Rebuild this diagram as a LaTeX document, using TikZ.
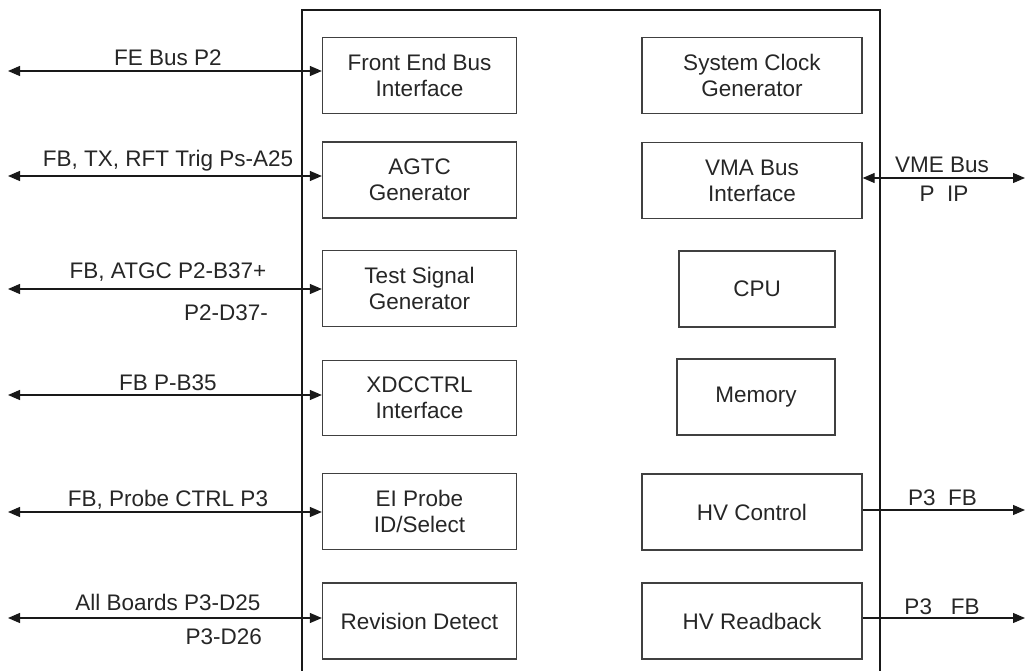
\documentclass[tikz,border=0pt]{standalone}
\usepackage{fontspec}
\setmainfont{Liberation Sans}
\usetikzlibrary{arrows.meta}
\begin{document}
\begin{tikzpicture}[x=1pt,y=-1pt,
  blk/.style={draw=black!75, line width=1.3pt, inner sep=0pt, align=center,
    font=\fontsize{22.5}{26}\selectfont, text=black!85},
  lbl/.style={inner sep=0pt, font=\fontsize{22.5}{26}\selectfont, text=black!85},
  conn/.style={draw=black!90, line width=1.2pt},
  tipr/.style={-{Triangle[length=12pt,width=10pt]}},
  tipb/.style={{Triangle[length=12pt,width=10pt]}-{Triangle[length=12pt,width=10pt]}}]
\useasboundingbox (0,0) rectangle (1025,671);
% outer frame (open at the bottom)
\draw[conn] (302,690) -- (302,10) -- (880,10) -- (880,690);
% left column
\node[blk, minimum width=194pt, minimum height=76pt] (feb) at (419.5,75.5) {Front End Bus\\Interface};
\node[blk, minimum width=194pt, minimum height=76pt] (agtc) at (419.5,180) {AGTC\\Generator};
\node[blk, minimum width=194pt, minimum height=76pt] (tsg) at (419.5,288.5) {Test Signal\\Generator};
\node[blk, minimum width=194pt, minimum height=75pt] (xdc) at (419.5,398) {XDCCTRL\\Interface};
\node[blk, minimum width=194pt, minimum height=76pt] (ei) at (419.5,511.5) {EI Probe\\ID/Select};
\node[blk, minimum width=194pt, minimum height=76pt] (rev) at (419.5,621) {Revision Detect};
% right column
\node[blk, minimum width=220pt, minimum height=76pt] (scg) at (752,75.5) {System Clock\\Generator};
\node[blk, minimum width=220pt, minimum height=76pt] (vma) at (752,180.5) {VMA Bus\\Interface};
\node[blk, minimum width=156pt, minimum height=76pt] (cpu) at (757,289) {CPU};
\node[blk, minimum width=158pt, minimum height=76pt] (mem) at (756,397) {Memory};
\node[blk, minimum width=220pt, minimum height=76pt] (hvc) at (752,512) {HV Control};
\node[blk, minimum width=220pt, minimum height=76pt] (hvr) at (752,621) {HV Readback};
% left connectors
\coordinate (a1) at (8,71);
\coordinate (a2) at (8,176);
\coordinate (a3) at (8,289);
\coordinate (a4) at (8,395);
\coordinate (a5) at (8,512);
\coordinate (a6) at (8,618);
\draw[conn,tipb] (a1) -- (a1 -| feb.west);
\draw[conn,tipb] (a2) -- (a2 -| agtc.west);
\draw[conn,tipb] (a3) -- (a3 -| tsg.west);
\draw[conn,tipb] (a4) -- (a4 -| xdc.west);
\draw[conn,tipb] (a5) -- (a5 -| ei.west);
\draw[conn,tipb] (a6) -- (a6 -| rev.west);
% right connectors
\coordinate (b1) at (1025,178);
\coordinate (b2) at (1025,510);
\coordinate (b3) at (1025,618);
\draw[conn,tipb] (b1 -| vma.east) -- (b1);
\draw[conn,tipr] (b2 -| hvc.east) -- (b2);
\draw[conn,tipr] (b3 -| hvr.east) -- (b3);
% labels
\node[lbl, anchor=base] (t1) at (168,66) {FE Bus P2};
\node[lbl, anchor=base] (t2) at (168,167) {FB, TX, RFT Trig Ps-A25};
\node[lbl, anchor=base] (t3) at (168,278) {FB, ATGC P2-B37+};
\node[lbl, anchor=base east] (t3b) at (268,320) {P2-D37-};
\node[lbl, anchor=base] (t4) at (168,390) {FB P-B35};
\node[lbl, anchor=base] (t5) at (168,506) {FB, Probe CTRL P3};
\node[lbl, anchor=base] (t6) at (168,610) {All Boards P3-D25};
\node[lbl, anchor=base east] (t6b) at (262,644) {P3-D26};
\node[lbl, anchor=base] (u1) at (942,173) {VME Bus};
\node[lbl, anchor=base] (u1b) at (944,202) {P\ \ IP};
\node[lbl, anchor=base] (u2) at (942.5,505) {P3\ \ FB};
\node[lbl, anchor=base] (u3) at (942,614) {P3\ \ \ FB};
\end{tikzpicture}
\end{document}
